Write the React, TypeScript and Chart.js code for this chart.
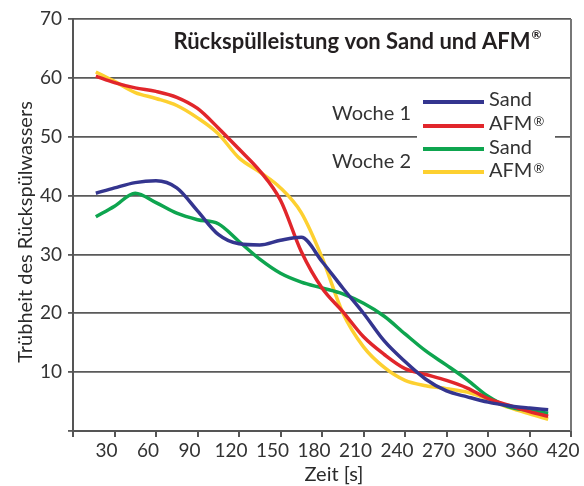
import React, { useEffect, useRef } from "react";
import { Chart, registerables } from "chart.js";

Chart.register(...registerables);

// x axis: equally spaced slots, labelled with these seconds values
const tickLabels = ["", "30", "60", "90", "120", "150", "180", "210", "240", "270", "300", "360", "420"];
// sample positions along the slot axis
const slots = [0.55, 1, 1.5, 2, 2.5, 3, 3.5, 4, 4.5, 5, 5.5, 6, 6.5, 7, 7.5, 8, 8.5, 9, 9.5, 10, 10.5, 11, 11.45];

const sandWeek1 = [40.4, 41.3, 42.2, 42.5, 41.3, 37.4, 33.4, 31.8, 31.6, 32.4, 32.9, 28.8, 24.3, 20.0, 15.3, 11.8, 8.8, 6.8, 5.8, 4.9, 4.3, 3.9, 3.6];
const afmWeek1 = [60.3, 59.2, 58.3, 57.7, 56.7, 54.8, 51.5, 47.9, 44.2, 39.2, 30.5, 24.3, 20.3, 16.0, 13.0, 10.6, 9.6, 8.6, 7.3, 5.5, 4.4, 3.3, 2.5];
const sandWeek2 = [36.4, 38.2, 40.4, 38.8, 37.0, 35.9, 35.2, 32.2, 29.2, 26.8, 25.3, 24.3, 23.3, 21.7, 19.5, 16.5, 13.6, 11.2, 8.7, 5.9, 4.1, 3.5, 3.0];
const afmWeek2 = [61.0, 59.4, 57.5, 56.5, 55.3, 53.2, 50.5, 46.4, 44.0, 41.3, 37.1, 29.5, 20.1, 14.3, 10.8, 8.6, 7.7, 7.2, 6.6, 5.4, 4.0, 2.9, 2.0];

const seriesNames = ["Sand", "AFM", "Sand", "AFM"];
const seriesMarks = ["", "®", "", "®"];
const seriesColors = ["#34358f", "#e1262b", "#0ea54f", "#fdd030"];
const weekLabels = ["Woche 1", "Woche 2"];

const titleText = "Rückspülleistung von Sand und AFM";
const yTitle = "Trübheit des Rückspülwassers";
const xTitle = "Zeit [s]";

const FONT = "Lato, 'Open Sans', sans-serif";
const TEXT = "#333333";

const overlay = {
  id: "overlay",
  afterDraw(chart: any) {
    const ctx = chart.ctx as CanvasRenderingContext2D;
    const a = chart.chartArea;
    ctx.save();

    // right frame line
    ctx.strokeStyle = "#777777";
    ctx.lineWidth = 2;
    ctx.beginPath();
    ctx.moveTo(a.right, a.top);
    ctx.lineTo(a.right, a.bottom);
    ctx.stroke();

    // title
    ctx.fillStyle = "#231f20";
    ctx.font = `bold 22px ${FONT}`;
    ctx.textBaseline = "alphabetic";
    ctx.textAlign = "left";
    const tw = ctx.measureText(titleText).width;
    ctx.font = `bold 12px ${FONT}`;
    const rw = ctx.measureText("®").width;
    const tx = 357 - (tw + rw) / 2;
    ctx.font = `bold 22px ${FONT}`;
    ctx.fillText(titleText, tx, 49);
    ctx.font = `bold 12px ${FONT}`;
    ctx.fillText("®", tx + tw + 1, 39);

    // legend box
    ctx.fillStyle = "#ffffff";
    ctx.fillRect(417, 88, 138, 96);
    const lineYs = [102, 126, 149, 172];
    const textYs = [106, 130, 154, 177];
    const ds = chart.data.datasets;
    for (let i = 0; i < ds.length; i++) {
      ctx.strokeStyle = ds[i].borderColor;
      ctx.lineWidth = 4;
      ctx.beginPath();
      ctx.moveTo(423, lineYs[i]);
      ctx.lineTo(484, lineYs[i]);
      ctx.stroke();
      ctx.fillStyle = TEXT;
      ctx.font = `20px ${FONT}`;
      ctx.textAlign = "left";
      ctx.fillText(ds[i].label, 489, textYs[i]);
      if (seriesMarks[i]) {
        const w = ctx.measureText(ds[i].label).width;
        ctx.font = `13px ${FONT}`;
        ctx.fillText(seriesMarks[i], 489 + w + 1, textYs[i] - 4);
      }
    }
    ctx.textAlign = "right";
    ctx.font = `20px ${FONT}`;
    ctx.fillText(weekLabels[0], 411, 120);
    ctx.fillText(weekLabels[1], 411, 168);

    // axis titles
    ctx.fillStyle = "#2a2a2a";
    ctx.font = `20px ${FONT}`;
    ctx.textAlign = "center";
    ctx.fillText(xTitle, 334, 481);
    ctx.translate(32, 232);
    ctx.rotate(-Math.PI / 2);
    ctx.fillText(yTitle, 0, 0);
    ctx.restore();
  },
};

export default function App() {
  const ref = useRef<HTMLCanvasElement>(null);

  useEffect(() => {
    const canvas = ref.current;
    if (!canvas) return;
    const all = [sandWeek1, afmWeek1, sandWeek2, afmWeek2];
    const chart = new Chart(canvas, {
      type: "line",
      data: {
        datasets: all.map((vals, k) => ({
          label: seriesNames[k],
          data: slots.map((x, i) => ({ x, y: vals[i] })),
          borderColor: seriesColors[k],
          backgroundColor: seriesColors[k],
          borderWidth: 3.5,
          pointRadius: 0,
          cubicInterpolationMode: "monotone" as const,
          fill: false,
        })),
      },
      options: {
        responsive: false,
        animation: false,
        devicePixelRatio: 1,
        layout: { padding: { top: 19, right: 13, left: 0, bottom: 0 } },
        plugins: {
          legend: { display: false },
          tooltip: { enabled: false },
        },
        scales: {
          x: {
            type: "linear",
            min: 0,
            max: 12,
            ticks: {
              stepSize: 1,
              autoSkip: false,
              maxRotation: 0,
              labelOffset: -8,
              padding: 2,
              color: TEXT,
              font: { family: FONT, size: 19 },
              callback: (v: any) => tickLabels[v] ?? "",
            },
            grid: { drawOnChartArea: false, drawTicks: true, tickLength: 6, color: "#555555", lineWidth: 2 },
            border: { color: "#555555", width: 2 },
            afterFit: (s: any) => {
              s.height = 55;
              s.paddingLeft = 0;
              s.paddingRight = 0;
            },
          },
          y: {
            min: 0,
            max: 70,
            ticks: {
              stepSize: 10,
              padding: 6,
              color: TEXT,
              font: { family: FONT, size: 19 },
              callback: (v: any) => (v === 0 ? "" : String(v)),
            },
            grid: { color: "#5a5a5a", lineWidth: 1.8, tickLength: 5 },
            border: { color: "#555555", width: 2 },
            afterFit: (s: any) => {
              s.width = 73;
              s.paddingTop = 0;
              s.paddingBottom = 0;
            },
          },
        },
      },
      plugins: [overlay],
    });
    return () => chart.destroy();
  }, []);

  return (
    <div style={{ position: "fixed", left: 0, top: 0, width: 584, height: 486, background: "#fff" }}>
      <canvas ref={ref} width={584} height={486} style={{ display: "block" }} />
    </div>
  );
}
